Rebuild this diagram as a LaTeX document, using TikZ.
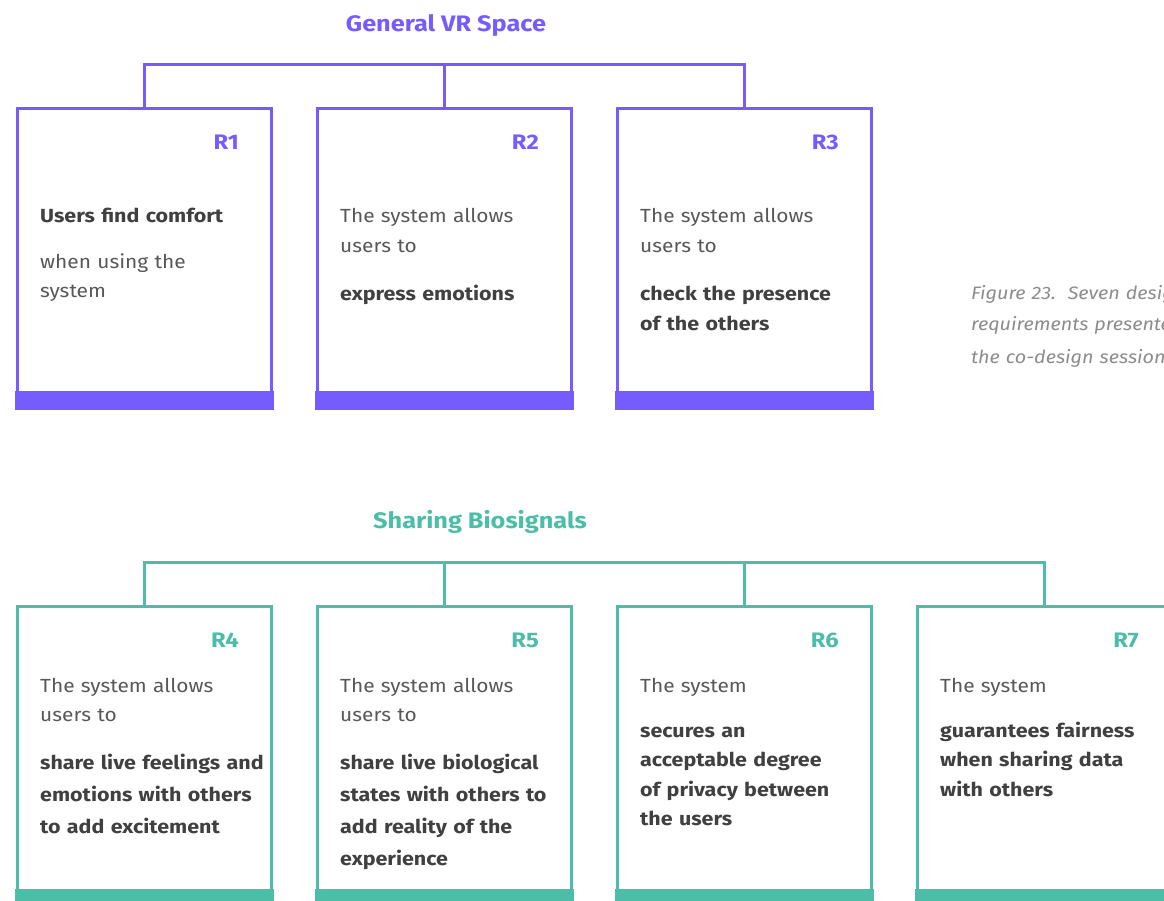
\documentclass[tikz,border=0pt]{standalone}
\usepackage{fontspec}
\setmainfont{Fira Sans}[FakeStretch=1.10,
  BoldFeatures={FakeStretch=1.13},
  ItalicFeatures={FakeStretch=1.10}]
\definecolor{vrpurple}{RGB}{116,92,255}
\definecolor{bioteal}{RGB}{76,190,168}
\definecolor{inkdark}{RGB}{64,64,64}
\definecolor{inkgray}{RGB}{88,88,88}
\definecolor{capgray}{RGB}{140,140,140}
\tikzset{
  reqbox/.style={draw=#1, line width=2.6pt, fill=white, inner sep=0pt,
    minimum width=254.4pt, minimum height=298.4pt, anchor=north},
  bus/.style={draw=#1, line width=2.6pt},
  tag/.style={text=#1, font=\bfseries\fontsize{21}{24}\selectfont,
    anchor=base east, inner sep=0pt},
  heading/.style={text=#1, font=\bfseries\fontsize{22.4}{26}\selectfont,
    anchor=base, inner sep=0pt},
  plain/.style={text=inkgray, font=\fontsize{19}{#1}\selectfont,
    anchor=base west, inner sep=0pt, text width=260pt, align=left},
  strong/.style={text=inkdark, font=\bfseries\fontsize{19}{#1}\selectfont,
    anchor=base west, inner sep=0pt, text width=260pt, align=left},
  caption/.style={text=capgray, font=\itshape\fontsize{18}{32}\selectfont,
    anchor=base west, inner sep=0pt, text width=300pt, align=left}
}
\begin{document}
\begin{tikzpicture}[x=1pt,y=-1pt]
\useasboundingbox (0,0) rectangle (1164,901);
\clip (0,0) rectangle (1164,901);
\fill[white] (0,0) rectangle (1164,901);

% ---------- General VR Space ----------
\node[heading=vrpurple] (gvr) at (446,32) {General VR Space};
\foreach \k/\cx in {1/144.5,2/444.5,3/744.5}
  \node[reqbox=vrpurple] (r\k) at (\cx,107.3) {};
\foreach \k in {1,2,3}
  \fill[vrpurple] ([shift={(-1.3,-17)}]r\k.south west) rectangle ([shift={(1.3,1.3)}]r\k.south east);
\draw[bus=vrpurple] (r1.north) -- ++(0,-43) -| (r3.north);
\draw[bus=vrpurple] (r2.north) -- ++(0,-43);
\foreach \k in {1,2,3}
  \node[tag=vrpurple] (r\k tag) at ([shift={(-34,42.5)}]r\k.north east) {R\k};

\node[strong=30] (r1a) at ([shift={(24,115.7)}]r1.north west) {Users find comfort};
\node[plain=29] (r1b) at ([shift={(24,161.7)}]r1.north west) {when using the\\system};

\node[plain=29.5] (r2a) at ([shift={(24,115.7)}]r2.north west) {The system allows\\users to};
\node[strong=30] (r2b) at ([shift={(24,192.7)}]r2.north west) {express emotions};

\node[plain=29.5] (r3a) at ([shift={(24,115.7)}]r3.north west) {The system allows\\users to};
\node[strong=30] (r3b) at ([shift={(24,192.7)}]r3.north west) {check the presence\\of the others};

% ---------- Sharing Biosignals ----------
\node[heading=bioteal] (bio) at (480,528) {Sharing Biosignals};
\foreach \k/\cx in {4/144.5,5/444.5,6/744.5,7/1044.5}
  \node[reqbox=bioteal] (r\k) at (\cx,605.3) {};
\foreach \k in {4,5,6,7}
  \fill[bioteal] ([shift={(-1.3,-17)}]r\k.south west) rectangle ([shift={(1.3,1.3)}]r\k.south east);
\draw[bus=bioteal] (r4.north) -- ++(0,-43) -| (r7.north);
\draw[bus=bioteal] (r5.north) -- ++(0,-43);
\draw[bus=bioteal] (r6.north) -- ++(0,-43);
\foreach \k in {4,5,6,7}
  \node[tag=bioteal] (r\k tag) at ([shift={(-34,42.5)}]r\k.north east) {R\k};

\node[plain=29] (r4a) at ([shift={(24,86.7)}]r4.north west) {The system allows\\users to};
\node[strong=32] (r4b) at ([shift={(24,163.7)}]r4.north west) {share live feelings and\\emotions with others\\to add excitement};

\node[plain=29] (r5a) at ([shift={(24,86.7)}]r5.north west) {The system allows\\users to};
\node[strong=32] (r5b) at ([shift={(24,163.7)}]r5.north west) {share live biological\\states with others to\\add reality of the\\experience};

\node[plain=29] (r6a) at ([shift={(24,86.7)}]r6.north west) {The system};
\node[strong=29.5] (r6b) at ([shift={(24,131.7)}]r6.north west) {secures an\\acceptable degree\\of privacy between\\the users};

\node[plain=29] (r7a) at ([shift={(24,86.7)}]r7.north west) {The system};
\node[strong=29.5] (r7b) at ([shift={(24,131.7)}]r7.north west) {guarantees fairness\\when sharing data\\with others};

% ---------- caption ----------
\node[caption] (cap) at (971,299) {Figure 23.\ \ Seven design\\requirements presented in\\the co-design session};
\end{tikzpicture}
\end{document}
